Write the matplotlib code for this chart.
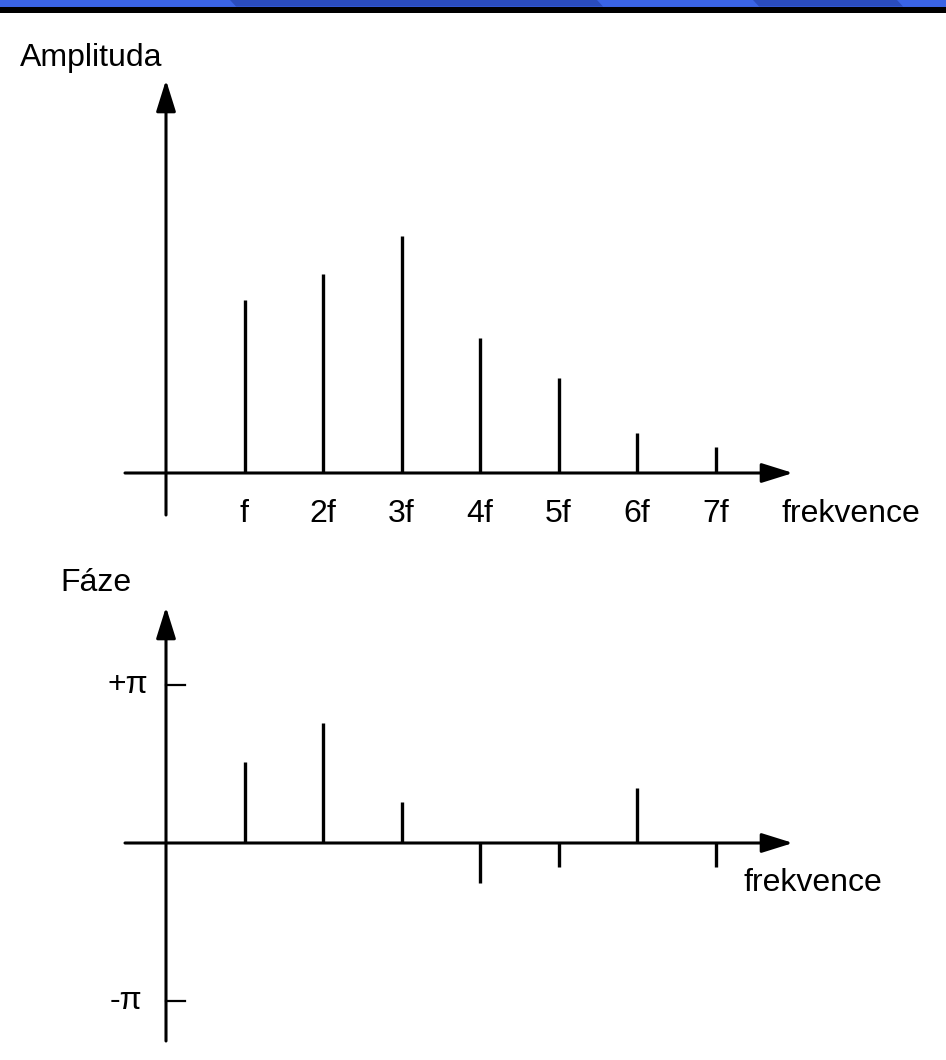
import matplotlib.pyplot as plt
from matplotlib.patches import Polygon, Rectangle

plt.rcParams['font.family'] = ['Liberation Sans', 'DejaVu Sans']

# harmonic spectrum data
harmonics = [1, 2, 3, 4, 5, 6, 7]
harmonic_labels = ['f', '2f', '3f', '4f', '5f', '6f', '7f']
amplitudes = [7.3, 8.4, 10.0, 5.7, 4.0, 1.7, 1.1]
phases = [0.51, 0.76, 0.26, -0.25, -0.15, 0.35, -0.15]  # in multiples of pi

W, H = 946, 1060
fig = plt.figure(figsize=(W / 100, H / 100), dpi=100)
fig.patch.set_facecolor('white')

# header band (slide decoration)
light_blue = '#3a64e6'
dark_blue = '#2a4cbd'
fig.patches.append(Rectangle((0, 1 - 6.5 / H), 1, 6.5 / H, transform=fig.transFigure,
                             facecolor=light_blue, edgecolor='none'))
for x0, x1 in [(230, 597), (753, 897)]:
    pts = [(x0 / W, 1), (x1 / W, 1), ((x1 + 6) / W, 1 - 6.5 / H), ((x0 + 6) / W, 1 - 6.5 / H)]
    fig.patches.append(Polygon(pts, closed=True, transform=fig.transFigure,
                               facecolor=dark_blue, edgecolor='none'))
fig.patches.append(Rectangle((0, 1 - 12.5 / H), 1, 6 / H, transform=fig.transFigure,
                             facecolor='black', edgecolor='none'))

x_origin = 166.0
x_scale = 78.5


def make_axes(y_zero_top, y_scale):
    # y_zero_top: pixel row (from top) of the zero line
    ax = fig.add_axes([0, 0, 1, 1])
    ax.set_xlim(-x_origin / x_scale, (W - x_origin) / x_scale)
    ax.set_ylim(-(H - y_zero_top) / y_scale, y_zero_top / y_scale)
    ax.axis('off')
    ax.patch.set_alpha(0)
    return ax


def draw_axes_arrows(ax, x_left, x_right, y_bottom, y_top):
    arrow = dict(arrowstyle='-|>,head_length=0.4,head_width=0.125', mutation_scale=48,
                 color='black', lw=2.2, shrinkA=0, shrinkB=0)
    ax.annotate('', xy=(x_right, 0), xytext=(x_left, 0), arrowprops=arrow)
    ax.annotate('', xy=(0, y_top), xytext=(0, y_bottom), arrowprops=arrow)


fs = 23

# --- amplitude spectrum ---
amp_scale = 23.7
ax1 = make_axes(473.0, amp_scale)
draw_axes_arrows(ax1, -41 / x_scale, 627 / x_scale, -42 / amp_scale, 393 / amp_scale)
ax1.vlines(harmonics, 0, amplitudes, colors='black', lw=2.4)
for h, lab in zip(harmonics, harmonic_labels):
    ax1.text(h, -49 / amp_scale, lab, ha='center', va='baseline', fontsize=fs)
ax1.text(616 / x_scale, -49 / amp_scale, 'frekvence', ha='left', va='baseline', fontsize=fs)
ax1.text(-146 / x_scale, 407 / amp_scale, 'Amplituda', ha='left', va='baseline', fontsize=fs)

# --- phase spectrum ---
pi_scale = 158.0
ax2 = make_axes(843.0, pi_scale)
draw_axes_arrows(ax2, -41 / x_scale, 627 / x_scale, -198 / pi_scale, 236 / pi_scale)
ax2.vlines(harmonics, 0, phases, colors='black', lw=2.4)
for yv in [1, -1]:
    ax2.plot([0, 19 / x_scale], [yv, yv], color='black', lw=1.6)
ax2.text(-18 / x_scale, 1, '+π', ha='right', va='center', fontsize=fs)
ax2.text(-24 / x_scale, -1, '-π', ha='right', va='center', fontsize=fs)
ax2.text(577 / x_scale, -48 / pi_scale, 'frekvence', ha='left', va='baseline', fontsize=fs)
ax2.text(-106 / x_scale, 252 / pi_scale, 'Fáze', ha='left', va='baseline', fontsize=fs)

fig.savefig('out.png', dpi=100, facecolor='white')
